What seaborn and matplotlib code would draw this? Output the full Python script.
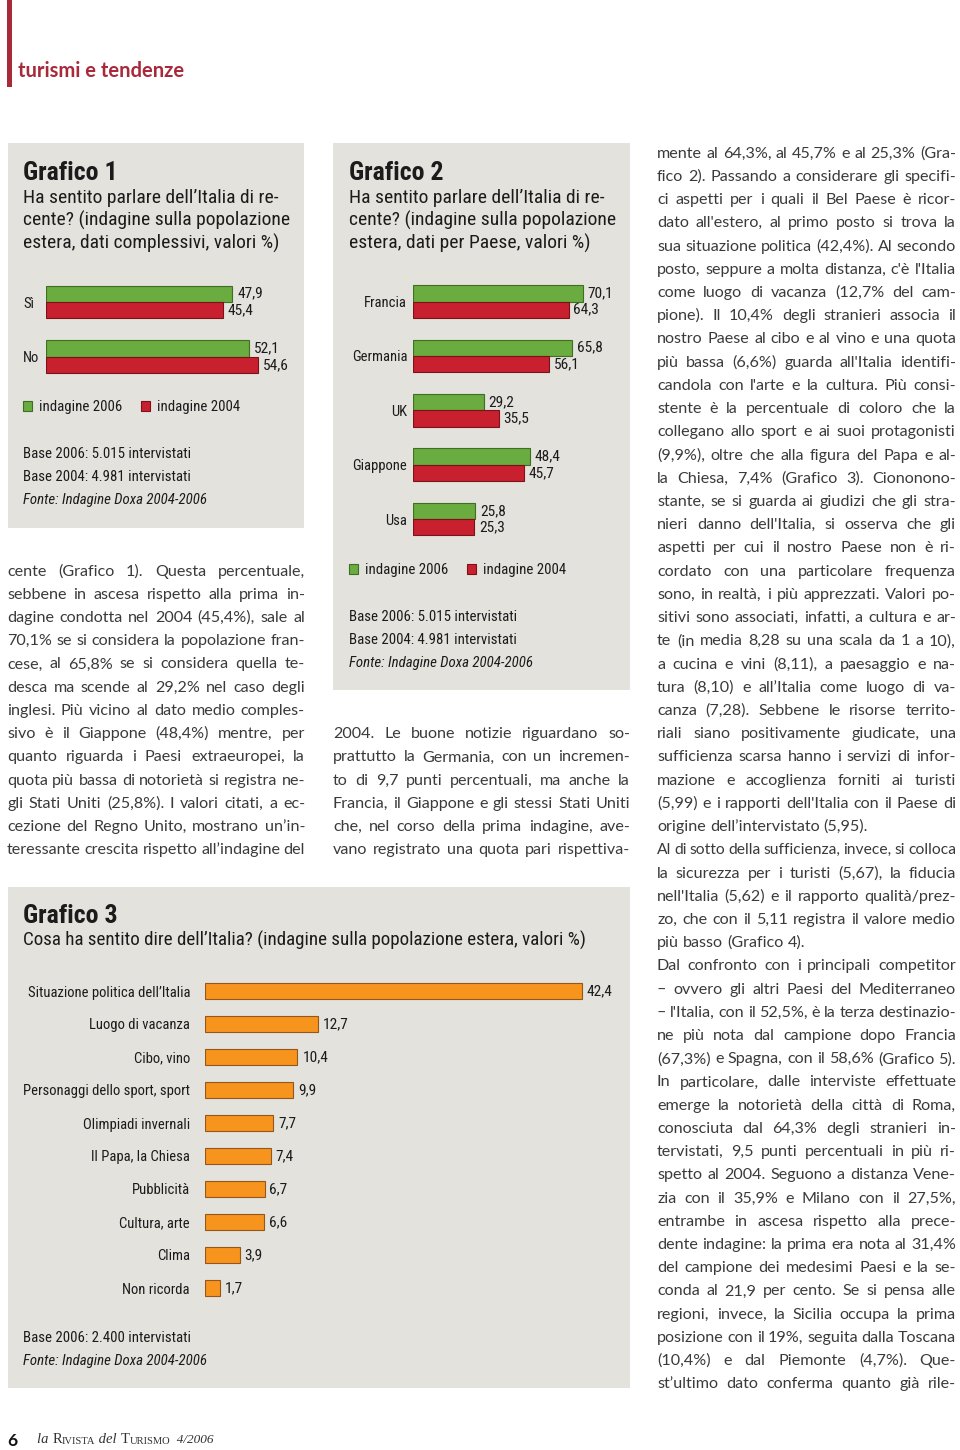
import matplotlib
matplotlib.use("Agg")
import numpy as np
import pandas as pd
import matplotlib.pyplot as plt
import seaborn as sns
from matplotlib import font_manager
from matplotlib.font_manager import FontProperties
from matplotlib.patches import Rectangle

# ---------------------------------------------------------------- data
survey_labels = ["indagine 2006", "indagine 2004"]

g1_categories = ["Sì", "No"]
g1_values_2006 = [47.9, 52.1]
g1_values_2004 = [45.4, 54.6]

g2_countries = ["Francia", "Germania", "UK", "Giappone", "Usa"]
g2_values_2006 = [70.1, 65.8, 29.2, 48.4, 25.8]
g2_values_2004 = [64.3, 56.1, 35.5, 45.7, 25.3]

g3_categories = ["Situazione politica dell’Italia", "Luogo di vacanza", "Cibo, vino",
                 "Personaggi dello sport, sport", "Olimpiadi invernali",
                 "Il Papa, la Chiesa", "Pubblicità", "Cultura, arte", "Clima",
                 "Non ricorda"]
g3_values = [42.4, 12.7, 10.4, 9.9, 7.7, 7.4, 6.7, 6.6, 3.9, 1.7]

g1_title = "Grafico 1"
g1_subtitle = ["Ha sentito parlare dell’Italia di re-",
               "cente? (indagine sulla popolazione",
               "estera, dati complessivi, valori %)"]
g2_title = "Grafico 2"
g2_subtitle = ["Ha sentito parlare dell’Italia di re-",
               "cente? (indagine sulla popolazione",
               "estera, dati per Paese, valori %)"]
g3_title = "Grafico 3"
g3_subtitle = "Cosa ha sentito dire dell’Italia? (indagine sulla popolazione estera, valori %)"
base_notes_12 = ["Base 2006: 5.015 intervistati", "Base 2004: 4.981 intervistati"]
base_note_3 = "Base 2006: 2.400 intervistati"
source_note = "Fonte: Indagine Doxa 2004-2006"

section_label = "turismi e tendenze"
page_number = "6"

col1_lines = [
    "cente (Grafico 1). Questa percentuale,",
    "sebbene in ascesa rispetto alla prima in-",
    "dagine condotta nel 2004 (45,4%), sale al",
    "70,1% se si considera la popolazione fran-",
    "cese, al 65,8% se si considera quella te-",
    "desca ma scende al 29,2% nel caso degli",
    "inglesi. Più vicino al dato medio comples-",
    "sivo è il Giappone (48,4%) mentre, per",
    "quanto riguarda i Paesi extraeuropei, la",
    "quota più bassa di notorietà si registra ne-",
    "gli Stati Uniti (25,8%). I valori citati, a ec-",
    "cezione del Regno Unito, mostrano un’in-",
    "teressante crescita rispetto all’indagine del",
]
col2_lines = [
    "2004. Le buone notizie riguardano so-",
    "prattutto la Germania, con un incremen-",
    "to di 9,7 punti percentuali, ma anche la",
    "Francia, il Giappone e gli stessi Stati Uniti",
    "che, nel corso della prima indagine, ave-",
    "vano registrato una quota pari rispettiva-",
]
col3_lines = [
    "mente al 64,3%, al 45,7% e al 25,3% (Gra-",
    "fico 2). Passando a considerare gli specifi-",
    "ci aspetti per i quali il Bel Paese è ricor-",
    "dato all'estero, al primo posto si trova la",
    "sua situazione politica (42,4%). Al secondo",
    "posto, seppure a molta distanza, c'è l'Italia",
    "come luogo di vacanza (12,7% del cam-",
    "pione). Il 10,4% degli stranieri associa il",
    "nostro Paese al cibo e al vino e una quota",
    "più bassa (6,6%) guarda all'Italia identifi-",
    "candola con l'arte e la cultura. Più consi-",
    "stente è la percentuale di coloro che la",
    "collegano allo sport e ai suoi protagonisti",
    "(9,9%), oltre che alla figura del Papa e al-",
    "la Chiesa, 7,4% (Grafico 3). Ciononono-",
    "stante, se si guarda ai giudizi che gli stra-",
    "nieri danno dell'Italia, si osserva che gli",
    "aspetti per cui il nostro Paese non è ri-",
    "cordato con una particolare frequenza",
    "sono, in realtà, i più apprezzati. Valori po-",
    "sitivi sono associati, infatti, a cultura e ar-",
    "te (in media 8,28 su una scala da 1 a 10),",
    "a cucina e vini (8,11), a paesaggio e na-",
    "tura (8,10) e all’Italia come luogo di va-",
    "canza (7,28). Sebbene le risorse territo-",
    "riali siano positivamente giudicate, una",
    "sufficienza scarsa hanno i servizi di infor-",
    "mazione e accoglienza forniti ai turisti",
    "(5,99) e i rapporti dell'Italia con il Paese di",
    "origine dell’intervistato (5,95).",
    "Al di sotto della sufficienza, invece, si colloca",
    "la sicurezza per i turisti (5,67), la fiducia",
    "nell'Italia (5,62) e il rapporto qualità/prez-",
    "zo, che con il 5,11 registra il valore medio",
    "più basso (Grafico 4).",
    "Dal confronto con i principali competitor",
    "– ovvero gli altri Paesi del Mediterraneo",
    "– l'Italia, con il 52,5%, è la terza destinazio-",
    "ne più nota dal campione dopo Francia",
    "(67,3%) e Spagna, con il 58,6% (Grafico 5).",
    "In particolare, dalle interviste effettuate",
    "emerge la notorietà della città di Roma,",
    "conosciuta dal 64,3% degli stranieri in-",
    "tervistati, 9,5 punti percentuali in più ri-",
    "spetto al 2004. Seguono a distanza Vene-",
    "zia con il 35,9% e Milano con il 27,5%,",
    "entrambe in ascesa rispetto alla prece-",
    "dente indagine: la prima era nota al 31,4%",
    "del campione dei medesimi Paesi e la se-",
    "conda al 21,9 per cento. Se si pensa alle",
    "regioni, invece, la Sicilia occupa la prima",
    "posizione con il 19%, seguita dalla Toscana",
    "(10,4%) e dal Piemonte (4,7%). Que-",
    "st’ultimo dato conferma quanto già rile-",
]
col3_paragraph_ends = [29, 34]

# ---------------------------------------------------------------- style
W, H = 960, 1450
sns.set_theme(style="white")
entries = font_manager.fontManager.ttflist
names = {f.name for f in entries}
COND_STRETCH = "normal"
if "Liberation Sans Narrow" in names:
    COND = "Liberation Sans Narrow"
elif "Roboto Condensed" in names:
    COND = "Roboto Condensed"
elif any(f.name == "DejaVu Sans" and "condensed" in str(f.stretch) for f in entries):
    COND, COND_STRETCH = "DejaVu Sans", "condensed"
elif "Roboto" in names:
    COND = "Roboto"
else:
    COND = "Liberation Sans" if "Liberation Sans" in names else "DejaVu Sans"
BODY = "Lato" if "Lato" in names else "DejaVu Sans"
SERIF = "Liberation Serif" if "Liberation Serif" in names else "DejaVu Serif"
plt.rcParams["font.family"] = [COND, "DejaVu Sans"]
plt.rcParams["font.stretch"] = COND_STRETCH

PANEL = "#e3e2dd"
GREEN, GREEN_EDGE = "#6aac3f", "#3f6e25"
RED, RED_EDGE = "#c8202e", "#7a1219"
ORANGE, ORANGE_EDGE = "#f7941e", "#94561a"
INK = "#1b1b1b"
BODY_INK = "#3a3a3a"
BRAND = "#a8293a"

fig = plt.figure(figsize=(W / 100, H / 100), dpi=100)
fig.patch.set_facecolor("white")
page = fig.add_axes([0, 0, 1, 1])
page.set_xlim(0, W)
page.set_ylim(H, 0)
page.axis("off")
renderer = fig.canvas.get_renderer()


def tw(s, fp):
    w, _, _ = renderer.get_text_width_height_descent(s, fp, ismath=False)
    return w


def fit(s, target, family=None, weight="normal", style="normal"):
    fp = FontProperties(family=family or COND, weight=weight, style=style,
                        stretch=COND_STRETCH if family is None else "normal",
                        size=10)
    return 10 * target / tw(s, fp)


TITLE_SIZE = fit("Grafico 1", 95, weight="bold")
SUB_SIZE = min(fit(g1_subtitle[0], 267), fit(g1_subtitle[1], 265))
SUB3_SIZE = fit(g3_subtitle, 562)
NOTE_SIZE = fit("Base 2006: 5.015 intervistati", 166)
LAB_SIZE = fit("Situazione politica dell’Italia", 161)
VAL_SIZE = fit("47,9", 26)
HEAD_SIZE = fit(section_label, 167, family=BODY, weight="bold")


def px_axes(x, y, w, h):
    return fig.add_axes([x / W, 1 - (y + h) / H, w / W, h / H])


def fmt(v):
    return f"{v:.1f}".replace(".", ",")


def ptext(x, y, s, size, **kw):
    kw.setdefault("color", INK)
    kw.setdefault("va", "baseline")
    return page.text(x, y, s, fontsize=size, **kw)


# header
page.add_patch(Rectangle((7, 0), 5, 87, color=BRAND, lw=0))
ptext(18, 77, section_label, HEAD_SIZE, family=BODY, weight="bold", color=BRAND,
      stretch="normal")

# panels
page.add_patch(Rectangle((8, 143), 296, 385, color=PANEL, lw=0, zorder=0))
page.add_patch(Rectangle((333, 143), 297, 547, color=PANEL, lw=0, zorder=0))
page.add_patch(Rectangle((8, 887), 622, 501, color=PANEL, lw=0, zorder=0))


def headings(x, title, subs, y_title=180, y_sub=202.5):
    ptext(x, y_title, title, TITLE_SIZE, weight="bold")
    for i, s in enumerate(subs):
        ptext(x, y_sub + 23 * i, s, SUB_SIZE)


def notes(x, y, lines):
    for i, s in enumerate(lines):
        ptext(x, y + 23 * i, s, NOTE_SIZE)
    ptext(x, y + 23 * len(lines), source_note, NOTE_SIZE, style="italic")


def clean(ax):
    ax.set_facecolor("none")
    ax.set_xlabel("")
    ax.set_ylabel("")
    ax.set_xticks([])
    for s in ax.spines.values():
        s.set_visible(False)


def grouped(ax, cats, v06, v04, width, px_per_unit, ax_w, pad_pt, left_labels):
    df = pd.DataFrame({
        "categoria": cats + cats,
        "valore": v06 + v04,
        "indagine": [survey_labels[0]] * len(cats) + [survey_labels[1]] * len(cats),
    })
    sns.barplot(data=df, x="valore", y="categoria", hue="indagine",
                hue_order=survey_labels, order=cats, orient="h",
                palette=[GREEN, RED], saturation=1, width=width,
                errorbar=None, linewidth=0.8, ax=ax)
    for cont, ec, vals in zip(ax.containers, [GREEN_EDGE, RED_EDGE], [v06, v04]):
        for b in cont:
            b.set_edgecolor(ec)
        ax.bar_label(cont, labels=[fmt(v) for v in vals], padding=3.5,
                     fontsize=VAL_SIZE, color=INK)
    clean(ax)
    ax.set_xlim(0, ax_w / px_per_unit)
    ax.set_ylim(len(cats) - 0.5, -0.5)
    ax.tick_params(axis="y", length=0, pad=pad_pt, labelsize=LAB_SIZE, labelcolor=INK)
    if left_labels:
        for lab in ax.get_yticklabels():
            lab.set_horizontalalignment("left")


def legend(ax, x, y):
    sns.move_legend(ax, "center left", bbox_to_anchor=(x / W, 1 - y / H),
                    bbox_transform=fig.transFigure, ncol=2, frameon=False,
                    title=None, fontsize=NOTE_SIZE, handlelength=0.62,
                    handleheight=0.62, handletextpad=0.45, columnspacing=1.25,
                    borderpad=0, borderaxespad=0)
    leg = ax.get_legend()
    for h, ec in zip(leg.legend_handles, [GREEN_EDGE, RED_EDGE]):
        h.set_edgecolor(ec)
        h.set_linewidth(0.8)
    for t in leg.get_texts():
        t.set_color(INK)


# ---------------- Grafico 1
headings(23, g1_title, g1_subtitle)
pitch1 = 54.7
ax1 = px_axes(45.5, 302 - pitch1 / 2, 250, pitch1 * len(g1_categories))
grouped(ax1, g1_categories, g1_values_2006, g1_values_2004, 0.6, 3.9, 250, 16.2, True)
legend(ax1, 23, 407)
notes(23, 458, base_notes_12)

# ---------------- Grafico 2
headings(349, g2_title, g2_subtitle)
pitch2 = 54.4
ax2 = px_axes(412.7, 301.5 - pitch2 / 2, 215, pitch2 * len(g2_countries))
grouped(ax2, g2_countries, g2_values_2006, g2_values_2004, 0.6, 2.425, 215, 4.0, False)
legend(ax2, 349, 570)
notes(349, 621, base_notes_12)

# ---------------- Grafico 3
ptext(23, 923, g3_title, TITLE_SIZE, weight="bold")
ptext(23, 946, g3_subtitle, SUB3_SIZE)
pitch3 = 33.0
ax3 = px_axes(205, 991 - pitch3 / 2, 410, pitch3 * len(g3_categories))
sns.barplot(x=g3_values, y=g3_categories, order=g3_categories, orient="h",
            color=ORANGE, saturation=1, width=0.5, errorbar=None,
            edgecolor=ORANGE_EDGE, linewidth=0.8, ax=ax3)
ax3.bar_label(ax3.containers[0], labels=[fmt(v) for v in g3_values],
              padding=3.5, fontsize=VAL_SIZE, color=INK)
clean(ax3)
ax3.set_xlim(0, 410 / 8.89)
ax3.set_ylim(len(g3_categories) - 0.5, -0.5)
ax3.tick_params(axis="y", length=0, pad=10.8, labelsize=LAB_SIZE, labelcolor=INK)
ptext(23, 1341.5, base_note_3, NOTE_SIZE)
ptext(23, 1364.5, source_note, NOTE_SIZE, style="italic")

# ---------------- body text (justified)
BODY_WEIGHT = "normal"
probe = FontProperties(family=BODY, weight=BODY_WEIGHT, size=10)
columns = [(col1_lines, 7, 298, 575.6, ()),
           (col2_lines, 333, 297, 738.2, ()),
           (col3_lines, 657, 299, 157.7, tuple(col3_paragraph_ends))]
sp10 = tw("a a", probe) - tw("aa", probe)
ratios = []
for lines, x0, width, y0, ends in columns:
    for i, line in enumerate(lines):
        if i in ends:
            continue
        words = line.split(" ")
        nat = sum(tw(w, probe) for w in words) + sp10 * (len(words) - 1)
        ratios.append(width / nat)
BODY_PT = 10 * float(np.percentile(ratios, 6))
body_fp = FontProperties(family=BODY, weight=BODY_WEIGHT, size=BODY_PT)


def column(lines, x0, width, y0, ends=(), step=23.22):
    space = tw("a a", body_fp) - tw("aa", body_fp)
    for i, line in enumerate(lines):
        y = y0 + i * step
        words = line.split(" ")
        fp = body_fp
        ws = [tw(w, fp) for w in words]
        n = len(words)
        if i in ends or n == 1:
            gap = space
        else:
            gap = (width - sum(ws)) / (n - 1)
            if gap < 0.75 * space:
                scale = (width - 0.75 * space * (n - 1)) / sum(ws)
                fp = body_fp.copy()
                fp.set_size(BODY_PT * scale)
                ws = [tw(w, fp) for w in words]
                gap = (width - sum(ws)) / (n - 1)
        x = x0
        for w, wd in zip(words, ws):
            page.text(x, y, w, fontproperties=fp, color=BODY_INK,
                      va="baseline", ha="left")
            x += wd + gap


for lines, x0, width, y0, ends in columns:
    column(lines, x0, width, y0, ends)

# ---------------- footer
ptext(7, 1446, page_number, 12.5, family=BODY, weight="bold", color="#111111",
      stretch="normal")
pieces = [("la ", 10.5, "italic"), ("R", 10.5, "normal"), ("IVISTA", 7.6, "normal"),
          (" del ", 10.5, "italic"), ("T", 10.5, "normal"), ("URISMO", 7.6, "normal"),
          ("  4/2006", 9.5, "italic")]
prev = None
for s, sz, st in pieces:
    if prev is None:
        prev = page.text(37, 1446, s, fontsize=sz, family=SERIF, style=st,
                         stretch="normal", color="#333333", va="bottom", ha="left")
    else:
        prev = page.annotate(s, xy=(1, 0), xycoords=prev, fontsize=sz, family=SERIF,
                             stretch="normal", style=st, color="#333333",
                             va="bottom", ha="left")

fig.savefig("out.png", dpi=100, facecolor="white")
